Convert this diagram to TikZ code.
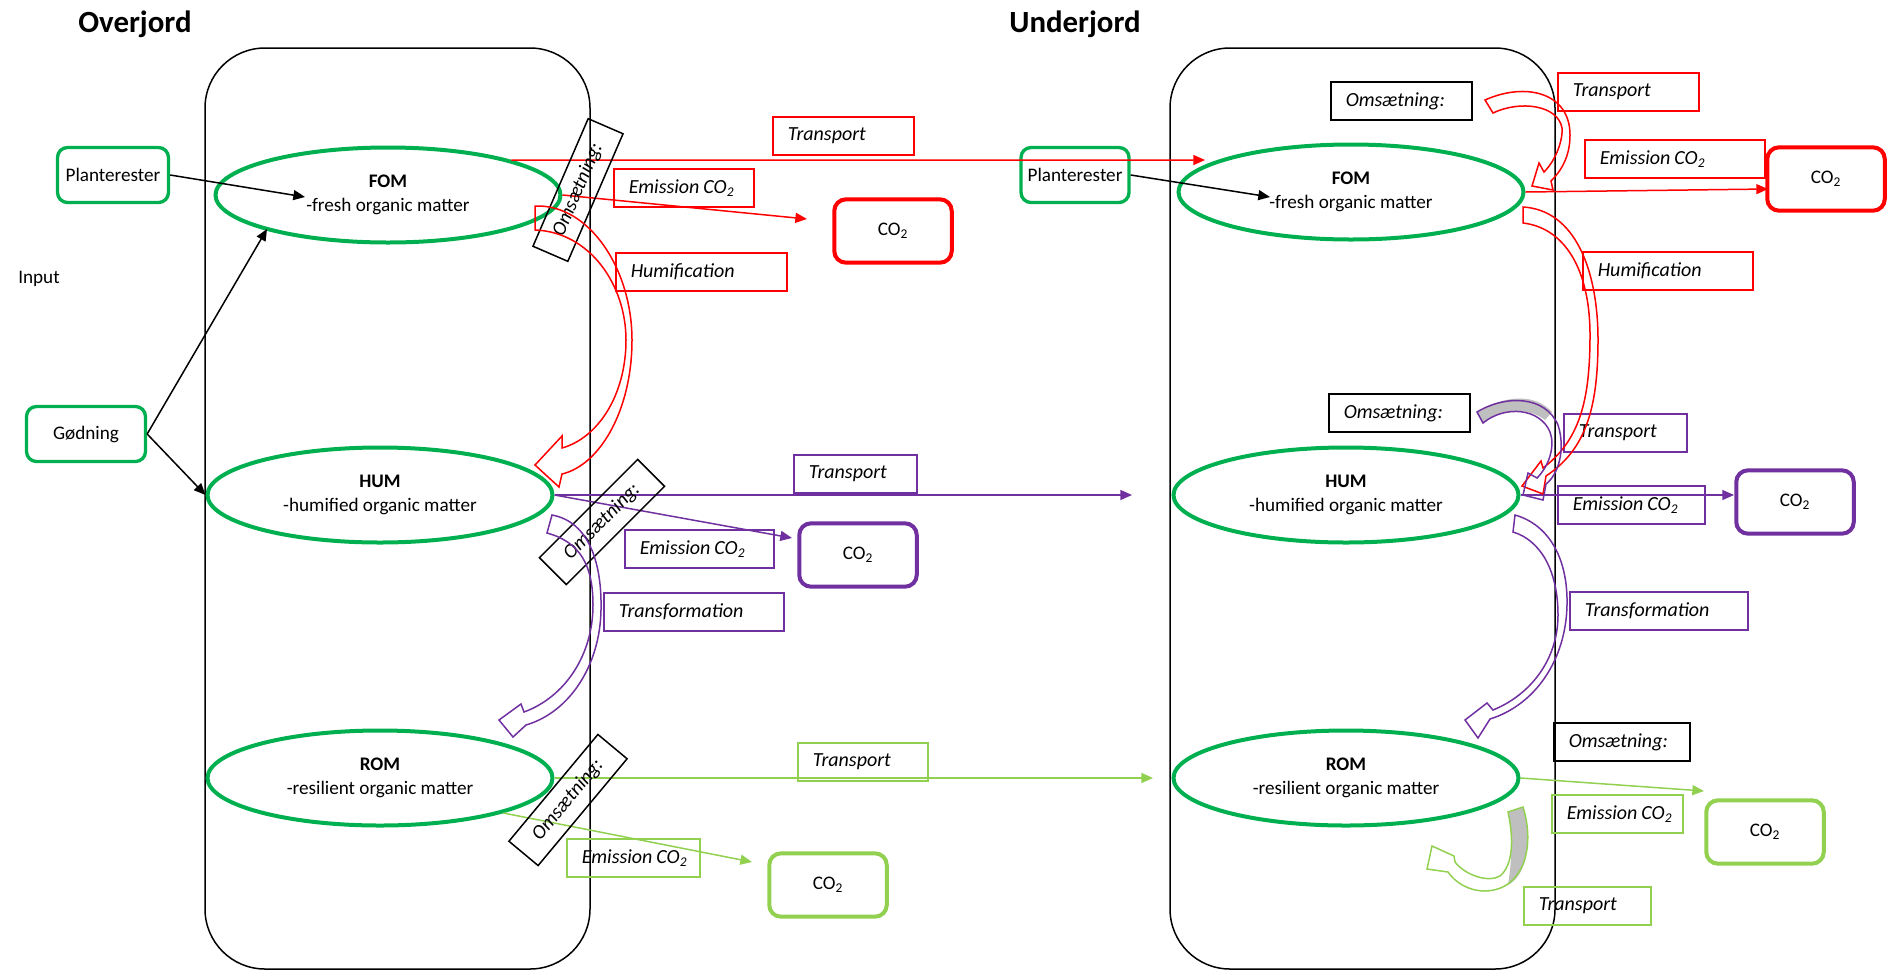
\documentclass[tikz,border=0pt]{standalone}
\usepackage{fontspec}
\setmainfont{Carlito}
\usetikzlibrary{arrows.meta}
\usetikzlibrary{shapes.geometric}
\definecolor{ogreen}{HTML}{00B050}
\definecolor{lgreen}{HTML}{92D050}
\definecolor{opurple}{HTML}{7030A0}
\definecolor{ored}{HTML}{FF0000}
\definecolor{ogray}{HTML}{BFBFBF}
\newcommand{\emco}{\mbox{Emission\hspace{0.2em}CO\textsubscript{2}}}
\tikzset{title/.style = {font=\fontsize{18.5}{22}\selectfont\bfseries},
         txt/.style = {font=\fontsize{11.5}{14}\selectfont},
         column/.style = {draw, line width=0.9pt, rounded corners=36pt},
         pool/.style = {ellipse, draw=ogreen, line width=2.4pt, inner sep=0pt,
                        minimum width=207pt, minimum height=57pt, align=center, txt},
         src/.style = {draw=ogreen, line width=2pt, rounded corners=6pt,
                       minimum height=33pt, txt},
         gas/.style = {draw=#1, line width=2.4pt, rounded corners=7pt,
                       minimum width=70.5pt, minimum height=38pt, txt},
         lbl/.style 2 args = {draw=#1, line width=0.9pt, anchor=west, minimum height=22.8pt,
                              inner xsep=9pt, text width=#2, align=left,
                              font=\fontsize{12}{14}\selectfont\itshape},
         omsaet/.style = {draw, line width=0.9pt, minimum width=83.4pt, minimum height=22.8pt,
                          inner sep=0pt, font=\fontsize{12}{14}\selectfont\itshape},
         flow/.style = {draw=#1, line width=0.9pt, -{Triangle[length=7pt,width=6pt]}},
         bend/.style = {draw=#1, line width=0.9pt, line join=miter}}

\begin{document}
\begin{tikzpicture}[x=0.6pt, y=-0.6pt]
  \useasboundingbox (0,0) rectangle (1888,972);
  \node[title] (over) at (135,24) {Overjord};
  \node[title] (under) at (1075,24) {Underjord};
  \node[txt] (input) at (39,279) {Input};

  % soil columns
  \draw[column] (205,48) rectangle (590,969);
  \draw[column] (1170,48) rectangle (1555,969);

  % pools
  \node[pool] (fomL) at (388,195) {\textbf{FOM}\\-fresh organic matter};
  \node[pool] (humL) at (380,495) {\textbf{HUM}\\-humified organic matter};
  \node[pool] (romL) at (380,778) {\textbf{ROM}\\-resilient organic matter};
  \node[pool] (fomR) at (1351,192) {\textbf{FOM}\\-fresh organic matter};
  \node[pool] (humR) at (1346,495) {\textbf{HUM}\\-humified organic matter};
  \node[pool] (romR) at (1346,778) {\textbf{ROM}\\-resilient organic matter};

  % inputs
  \node[src, minimum width=66.6pt] (plantL) at (113,175) {Planterester};
  \node[src, minimum width=71.4pt] (godn) at (86,434) {Gødning};
  \node[src, minimum width=64.8pt] (plantR) at (1075,175) {Planterester};
  \coordinate (fomLin) at (305,197);
  \coordinate (fomLlow) at (267,229);
  \coordinate (fomRin) at (1270,197);
  \draw[flow=black] (plantL.east) -- (fomLin);
  \draw[flow=black] (godn.east) -- (fomLlow);
  \draw[flow=black] (godn.east) -- (humL.west);
  \draw[flow=black] (plantR.east) -- (fomRin);

  % CO2 pools
  \node[gas=ored] (co2a) at (893,231) {CO\textsubscript{2}};
  \node[gas=opurple] (co2b) at (858,555) {CO\textsubscript{2}};
  \node[gas=lgreen] (co2c) at (828,885) {CO\textsubscript{2}};
  \node[gas=ored] (co2d) at (1826,179) {CO\textsubscript{2}};
  \node[gas=opurple] (co2e) at (1795,502) {CO\textsubscript{2}};
  \node[gas=lgreen] (co2f) at (1765,832) {CO\textsubscript{2}};

  % transport and emission
  \coordinate (toFOM) at (1205,160);
  \coordinate (toHUM) at (1132,495);
  \coordinate (toROM) at (1153,778);
  \coordinate (emA) at (807,219);
  \coordinate (emB) at (792,538);
  \coordinate (emC) at (752,862);
  \coordinate (emD) at (1768,189);
  \coordinate (emE) at (1734,495);
  \coordinate (emF) at (1704,791);
  \draw[flow=ored] (fomL.north east) -- (toFOM);
  \draw[flow=opurple] (humL.east) -- (toHUM);
  \draw[flow=lgreen] (romL.east) -- (toROM);
  \draw[flow=ored] (fomL.east) -- (emA);
  \draw[flow=opurple] (humL.east) -- (emB);
  \draw[flow=lgreen] (romL.south east) -- (emC);
  \draw[flow=ored] (fomR.east) -- (emD);
  \draw[flow=opurple] (humR.east) -- (emE);
  \draw[flow=lgreen] (romR.east) -- (emF);

  % labels
  \node[lbl={ored}{66.6pt}] (trA) at (772,136) {Transport};
  \node[lbl={ored}{66pt}] (emlA) at (613,188) {\emco};
  \node[lbl={ored}{84.6pt}] (hmA) at (615,272) {\mbox{Humification}};
  \node[lbl={opurple}{55.8pt}] (trB) at (793,474) {Transport};
  \node[lbl={opurple}{71.4pt}] (emlB) at (624,549) {\emco};
  \node[lbl={opurple}{90pt}] (tfB) at (603,612) {\mbox{Transformation}};
  \node[lbl={lgreen}{60pt}] (trC) at (797,762) {Transport};
  \node[lbl={lgreen}{61.8pt}] (emlC) at (566,858) {\emco};
  \node[lbl={black}{66.6pt}] (omsD) at (1330,101) {\mbox{Omsætning:}};
  \node[lbl={ored}{66.6pt}] (trD) at (1557,92) {Transport};
  \node[lbl={ored}{90pt}] (emlD) at (1584,159) {\emco};
  \node[lbl={ored}{84pt}] (hmD) at (1582,271) {\mbox{Humification}};
  \node[lbl={black}{66.6pt}] (omsE) at (1328,413) {\mbox{Omsætning:}};
  \node[lbl={opurple}{55.8pt}] (trE) at (1563,433) {Transport};
  \node[lbl={opurple}{70.2pt}] (emlE) at (1557,505) {\emco};
  \node[lbl={opurple}{88.8pt}] (tfE) at (1569,611) {\mbox{Transformation}};
  \node[lbl={black}{63.6pt}] (omsF) at (1553,742) {\mbox{Omsætning:}};
  \node[lbl={lgreen}{60.6pt}] (emlF) at (1551,814) {\emco};
  \node[lbl={lgreen}{58.2pt}] (trF) at (1523,906) {Transport};

  \node[omsaet, rotate=66.6] (omsA) at (578,190) {Omsætning:};
  \node[omsaet, rotate=45] (omsB) at (602,522) {Omsætning:};
  \node[omsaet, rotate=50.2] (omsC) at (568,800) {Omsætning:};

  % curved block arrows
  \draw[bend=ored] (535,206) .. controls (590,204) and (632,270) .. (632,340)
    .. controls (632,410) and (600,465) .. (562,474) -- (559,487) -- (535,465)
    -- (562,436) -- (562,448) .. controls (598,438) and (626,395) .. (626,340)
    .. controls (626,285) and (590,232) .. (535,230) -- cycle;
  \draw[bend=opurple] (552,515) .. controls (590,522) and (602,565) .. (601,610)
    .. controls (600,665) and (570,712) .. (526,725) -- (513,737) -- (499,720)
    -- (521,704) -- (524,712) .. controls (565,697) and (593,655) .. (593,605)
    .. controls (593,565) and (580,542) .. (547,533) -- cycle;
  \draw[bend=ored] (1485,100) .. controls (1525,82) and (1570,92) .. (1570,135)
    .. controls (1570,158) and (1560,172) .. (1551,181) -- (1553,190) -- (1532,186)
    -- (1539,163) -- (1544,172) .. controls (1556,160) and (1563,140) .. (1562,128)
    .. controls (1558,105) and (1520,100) .. (1493,113) -- cycle;
  \draw[bend=ored] (1523,207) .. controls (1575,210) and (1598,270) .. (1598,340)
    .. controls (1598,410) and (1585,450) .. (1546,476) -- (1543,494) -- (1522,486)
    -- (1541,461) -- (1543,468) .. controls (1580,440) and (1590,400) .. (1590,335)
    .. controls (1590,270) and (1565,228) .. (1523,223) -- cycle;
  \fill[ogray] (1477,412) .. controls (1505,395) and (1535,393) .. (1552,412)
    -- (1545,420) .. controls (1530,408) and (1500,407) .. (1483,423) -- cycle;
  \draw[bend=opurple] (1477,412) .. controls (1505,395) and (1545,395) .. (1558,425)
    .. controls (1566,450) and (1558,475) .. (1546,484) -- (1543,500) -- (1523,495)
    -- (1528,473) -- (1537,478) .. controls (1550,465) and (1555,445) .. (1550,432)
    .. controls (1540,408) and (1505,405) .. (1483,423) -- cycle;
  \draw[bend=opurple] (1515,515) .. controls (1550,525) and (1568,560) .. (1567,605)
    .. controls (1566,660) and (1535,705) .. (1490,719) -- (1478,738) -- (1465,720)
    -- (1487,703) -- (1493,710) .. controls (1530,695) and (1558,660) .. (1558,615)
    .. controls (1558,570) and (1540,540) .. (1513,532) -- cycle;
  \fill[ogray] (1508,812) -- (1523,807) .. controls (1533,840) and (1527,875) .. (1508,885)
    .. controls (1512,860) and (1513,835) .. (1508,812) -- cycle;
  \draw[bend=lgreen] (1523,807) .. controls (1535,845) and (1525,890) .. (1485,891)
    .. controls (1468,891) and (1455,882) .. (1448,872) -- (1427,869) -- (1432,846)
    -- (1454,856) -- (1455,862) .. controls (1465,875) and (1488,883) .. (1500,876)
    .. controls (1513,865) and (1514,840) .. (1508,812) -- cycle;
\end{tikzpicture}
\end{document}
